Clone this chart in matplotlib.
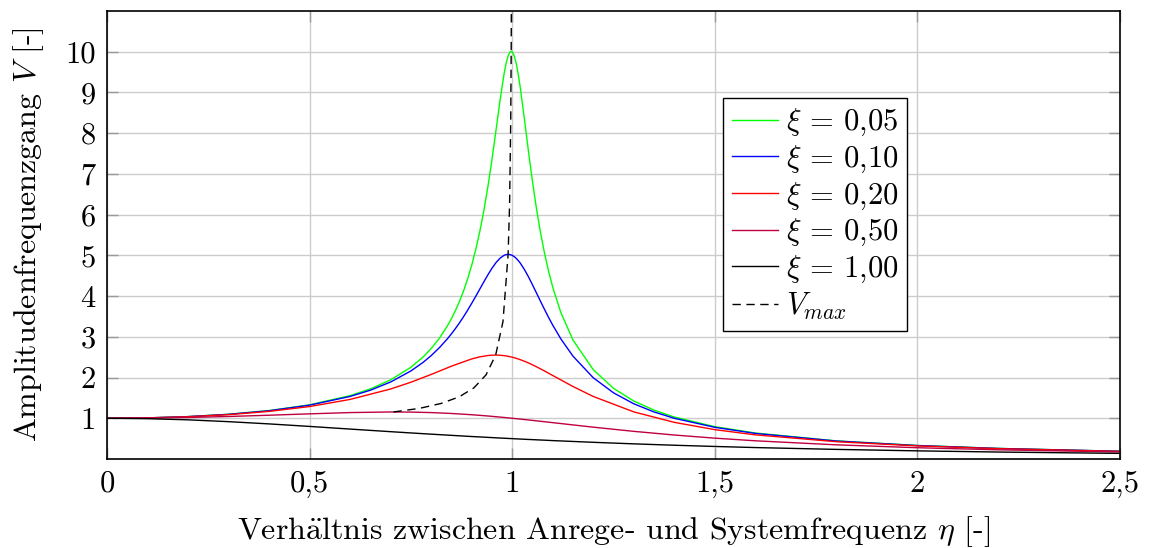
#!/usr/bin/env python3
"""
Amplitude frequency response of a damped single mass oscillator
"""
import matplotlib
matplotlib.use('Agg')
import matplotlib.pyplot as plt
from matplotlib import rcParams

# ========== DATA ==========
# fine grid for the two sharp resonance curves
eta_fine = [0, 0.1, 0.2, 0.3, 0.4, 0.5, 0.6, 0.65, 0.7, 0.75, 0.78, 0.8,
            0.82, 0.84, 0.85, 0.86, 0.87, 0.88, 0.89, 0.9, 0.91, 0.92, 0.93,
            0.94, 0.95, 0.96, 0.97, 0.98, 0.985, 0.99, 0.995, 1.0, 1.005,
            1.01, 1.015, 1.02, 1.03, 1.04, 1.05, 1.06, 1.07, 1.08, 1.09, 1.1,
            1.12, 1.15, 1.2, 1.25, 1.3, 1.35, 1.4, 1.5, 1.6, 1.8, 2.0, 2.2,
            2.5]

v_005 = [1.000, 1.010, 1.041, 1.098, 1.189, 1.330, 1.556, 1.721, 1.943,
         2.253, 2.504, 2.712, 2.961, 3.266, 3.446, 3.646, 3.873, 4.129,
         4.422, 4.756, 5.141, 5.585, 6.097, 6.684, 7.346, 8.068, 8.804,
         9.461, 9.718, 9.903, 10.000, 10.000, 9.901, 9.711, 9.442, 9.115,
         8.357, 7.565, 6.815, 6.141, 5.552, 5.041, 4.600, 4.218, 3.598,
         2.921, 2.193, 1.735, 1.424, 1.200, 1.031, 0.794, 0.638, 0.445,
         0.333, 0.260, 0.190]

v_010 = [1.000, 1.010, 1.041, 1.097, 1.185, 1.322, 1.536, 1.689, 1.891,
         2.162, 2.372, 2.538, 2.730, 2.950, 3.073, 3.204, 3.345, 3.495,
         3.654, 3.821, 3.994, 4.172, 4.350, 4.522, 4.683, 4.822, 4.931,
         5.001, 5.019, 5.025, 5.019, 5.000, 4.969, 4.926, 4.872, 4.809,
         4.655, 4.476, 4.279, 4.075, 3.869, 3.668, 3.473, 3.288, 2.950,
         2.525, 1.995, 1.625, 1.356, 1.155, 1.000, 0.778, 0.628, 0.441,
         0.330, 0.259, 0.190]

# coarser grid for the flatter curves
eta = [0, 0.1, 0.2, 0.3, 0.4, 0.5, 0.6, 0.7, 0.75, 0.8, 0.85, 0.9, 0.92,
       0.94, 0.95, 0.96, 0.97, 0.98, 0.99, 1.0, 1.01, 1.02, 1.03, 1.04,
       1.05, 1.06, 1.08, 1.1, 1.15, 1.2, 1.3, 1.4, 1.5, 1.6, 1.8, 2.0,
       2.2, 2.5]

v_020 = [1.000, 1.009, 1.038, 1.089, 1.169, 1.288, 1.463, 1.719, 1.885,
         2.076, 2.279, 2.457, 2.508, 2.541, 2.549, 2.552, 2.548, 2.538,
         2.522, 2.500, 2.472, 2.439, 2.401, 2.359, 2.313, 2.264, 2.160,
         2.051, 1.780, 1.536, 1.157, 0.900, 0.721, 0.593, 0.425, 0.322,
         0.254, 0.187]

v_050 = [1.000, 1.005, 1.020, 1.044, 1.075, 1.109, 1.140, 1.155, 1.152,
         1.140, 1.118, 1.087, 1.072, 1.056, 1.047, 1.038, 1.029, 1.020,
         1.010, 1.000, 0.990, 0.980, 0.969, 0.959, 0.948, 0.937, 0.915,
         0.893, 0.837, 0.782, 0.679, 0.589, 0.512, 0.447, 0.348, 0.277,
         0.226, 0.172]

v_100 = [1.000, 0.990, 0.962, 0.917, 0.862, 0.800, 0.735, 0.671, 0.640,
         0.610, 0.581, 0.552, 0.542, 0.531, 0.526, 0.520, 0.515, 0.510,
         0.505, 0.500, 0.495, 0.490, 0.485, 0.480, 0.476, 0.471, 0.462,
         0.452, 0.431, 0.410, 0.372, 0.338, 0.308, 0.281, 0.236, 0.200,
         0.171, 0.138]

# resonance peak line
eta_max = [0.7071, 0.7714, 0.8246, 0.8689, 0.9055, 0.9354, 0.9592, 0.9772,
           0.98995, 0.99358, 0.99639, 0.99750, 0.99840, 0.99910, 0.99960]
v_max = [1.155, 1.244, 1.364, 1.525, 1.747, 2.066, 2.552, 3.372, 5.025,
         6.270, 8.348, 10.013, 12.510, 16.670, 25.000]

labels = [r'$\xi$ = 0,05', r'$\xi$ = 0,10', r'$\xi$ = 0,20',
          r'$\xi$ = 0,50', r'$\xi$ = 1,00']

x_ticks = [0, 0.5, 1, 1.5, 2, 2.5]
x_tick_labels = ['0', '0,5', '1', '1,5', '2', '2,5']
y_ticks = [1, 2, 3, 4, 5, 6, 7, 8, 9, 10]

# ========== STYLE ==========
COLORS = ['#00ff00', '#0000ff', '#ff0000', '#bf0040', '#000000']
LINE_WIDTH = 1.0
TICK_SIZE = 22
LABEL_SIZE = 23
LEGEND_SIZE = 22

rcParams['font.family'] = ['cmr10', 'DejaVu Serif']
rcParams['mathtext.fontset'] = 'cm'
rcParams['axes.formatter.use_mathtext'] = True
rcParams['font.size'] = TICK_SIZE

fig = plt.figure(figsize=(11.49, 5.48), dpi=100)
ax = fig.add_axes([0.0931, 0.1624, 0.8817, 0.8175])

grids = [eta_fine, eta_fine, eta, eta, eta]
series = [v_005, v_010, v_020, v_050, v_100]
for xs, vals, col, lab in zip(grids, series, COLORS, labels):
    ax.plot(xs, vals, color=col, lw=LINE_WIDTH, label=lab)

ax.plot(eta_max, v_max, color='black', lw=LINE_WIDTH, ls=(0, (6, 4)),
        label=r'$V_{max}$')

ax.set_xlim(0, 2.5)
ax.set_ylim(0, 11)
ax.set_xticks(x_ticks)
ax.set_xticklabels(x_tick_labels)
ax.set_yticks(y_ticks)
ax.set_yticklabels([str(t) for t in y_ticks])

ax.grid(True, color='#cccccc', lw=1.0)
ax.set_axisbelow(True)
ax.tick_params(direction='in', length=8, width=1, color='#999999',
               top=True, right=True, pad=8, labelsize=TICK_SIZE)
for sp in ax.spines.values():
    sp.set_linewidth(1.2)

ax.set_xlabel(r'Verh$\ddot{\mathrm{a}}$ltnis zwischen Anrege- und '
              r'Systemfrequenz $\eta$ [-]', fontsize=LABEL_SIZE, labelpad=12)
ax.set_ylabel(r'Amplitudenfrequenzgang $V$ [-]', fontsize=LABEL_SIZE,
              labelpad=14)

leg = ax.legend(loc='upper left', bbox_to_anchor=(0.608, 0.806),
                borderaxespad=0, fancybox=False, framealpha=1,
                edgecolor='black', fontsize=LEGEND_SIZE, handlelength=1.5,
                handletextpad=0.25, labelspacing=0.18, borderpad=0.3)
leg.get_frame().set_linewidth(1.0)

fig.savefig('out.png', dpi=100)
